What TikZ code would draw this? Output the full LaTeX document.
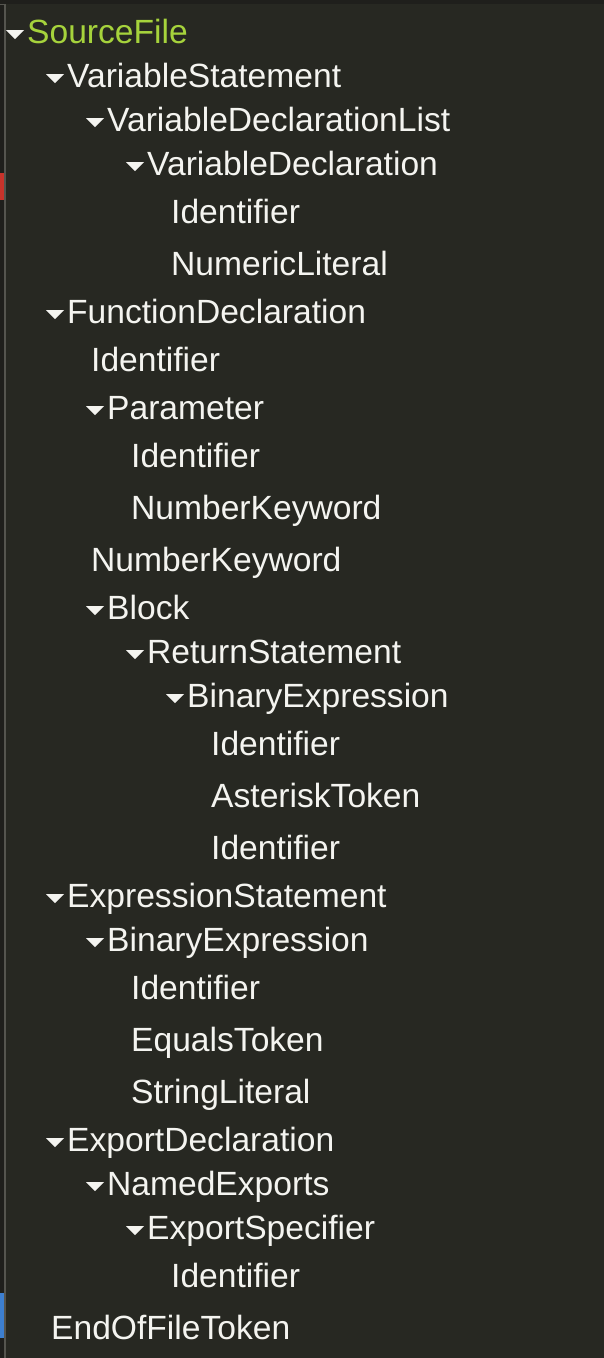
\documentclass[tikz,border=0pt]{standalone}
\usepackage{fontspec}
\setmainfont{Liberation Sans}
\definecolor{panelbg}{HTML}{272822}
\definecolor{edgebg}{HTML}{1F1F1C}
\definecolor{gutter}{HTML}{55554F}
\definecolor{roottext}{HTML}{A6D33C}
\definecolor{itemtext}{HTML}{F4F4F0}
\definecolor{markred}{HTML}{C8332B}
\definecolor{markblue}{HTML}{3D7FD0}
\tikzset{
  item/.style={anchor=base west, inner sep=0pt, text=itemtext,
    font=\fontsize{33.6}{40}\selectfont},
  root/.style={item, text=roottext},
  twisty/.style={fill=itemtext},
}
% expandable tree row: name, x, baseline, label, style
\newcommand\branchrow[5]{%
  \node[#5] (#1) at (#2,#3) {#4};
  \fill[twisty] (#1.base west) ++(-21,-13) -- ++(18,0) -- ++(-9,9) -- cycle;
}
% leaf tree row: name, x, baseline, label
\newcommand\leafrow[4]{\node[item] (#1) at (#2,#3) {#4};}
\begin{document}
\begin{tikzpicture}[x=1pt,y=-1pt]
  \fill[panelbg] (0,0) rectangle (604,1358);
  \useasboundingbox (0,0) rectangle (604,1358);
  % window edge and gutter line
  \fill[edgebg] (0,0) rectangle (604,4);
  \fill[edgebg] (0,0) rectangle (4,1358);
  \fill[gutter] (4,4) rectangle (5.6,1358);
  \fill[gutter] (0,4) rectangle (5.6,5);
  \fill[markred] (0,173) rectangle (4,200);
  \fill[markblue] (0,1293) rectangle (4,1338);
  % tree
  \branchrow{sf}{27}{43}{SourceFile}{root}
  \branchrow{vs}{67}{87}{VariableStatement}{item}
  \branchrow{vdl}{107}{131}{VariableDeclarationList}{item}
  \branchrow{vd}{147}{175}{VariableDeclaration}{item}
  \leafrow{vdid}{171}{223}{Identifier}
  \leafrow{vdnum}{171}{275}{NumericLiteral}
  \branchrow{fd}{67}{323}{FunctionDeclaration}{item}
  \leafrow{fdid}{91}{371}{Identifier}
  \branchrow{par}{107}{419}{Parameter}{item}
  \leafrow{parid}{131}{467}{Identifier}
  \leafrow{parkw}{131}{519}{NumberKeyword}
  \leafrow{fdkw}{91}{571}{NumberKeyword}
  \branchrow{blk}{107}{619}{Block}{item}
  \branchrow{ret}{147}{663}{ReturnStatement}{item}
  \branchrow{bin}{187}{707}{BinaryExpression}{item}
  \leafrow{binl}{211}{755}{Identifier}
  \leafrow{binop}{211}{807}{AsteriskToken}
  \leafrow{binr}{211}{859}{Identifier}
  \branchrow{es}{67}{907}{ExpressionStatement}{item}
  \branchrow{asg}{107}{951}{BinaryExpression}{item}
  \leafrow{asgl}{131}{999}{Identifier}
  \leafrow{asgop}{131}{1051}{EqualsToken}
  \leafrow{asgr}{131}{1103}{StringLiteral}
  \branchrow{ed}{67}{1151}{ExportDeclaration}{item}
  \branchrow{ne}{107}{1195}{NamedExports}{item}
  \branchrow{spec}{147}{1239}{ExportSpecifier}{item}
  \leafrow{specid}{171}{1287}{Identifier}
  \leafrow{eof}{51}{1339}{EndOfFileToken}
\end{tikzpicture}
\end{document}
